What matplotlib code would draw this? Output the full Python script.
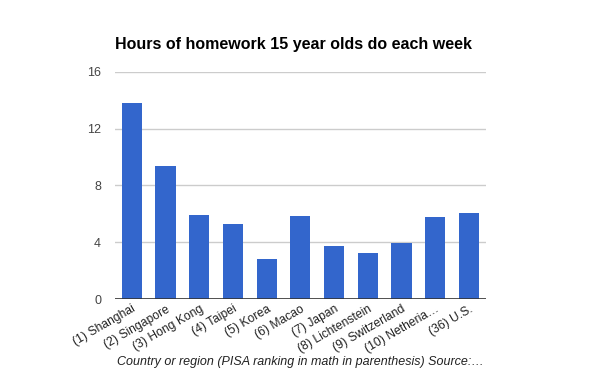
import matplotlib.pyplot as plt

# Dados
paises = ["(1) Shanghai", "(2) Singapore", "(3) Hong Kong", "(4) Taipei", "(5) Korea",
          "(6) Macao", "(7) Japan", "(8) Lichtenstein", "(9) Switzerland",
          "(10) Netheria…", "(36) U.S."]
horas = [13.8, 9.36, 5.91, 5.28, 2.82, 5.84, 3.73, 3.24, 3.94, 5.77, 6.05]
yticks = [0, 4, 8, 12, 16]

plt.rcParams['font.family'] = ['Liberation Sans', 'DejaVu Sans']

fig = plt.figure(figsize=(6, 3.71), dpi=100)
ax = fig.add_axes([0.1917, 0.194, 0.6178, 0.6127])

ax.bar(range(len(paises)), horas, width=0.6, color="#3366CC", zorder=3)

ax.set_xlim(-0.5, len(paises) - 0.5)
ax.set_ylim(0, 16)
ax.set_yticks(yticks)
ax.grid(axis="y", color="#CCCCCC", linewidth=1, zorder=0)
ax.axhline(0, color="#333333", linewidth=1.2, zorder=4)

for s in ["top", "right", "left", "bottom"]:
    ax.spines[s].set_visible(False)

ax.tick_params(axis="both", length=0, labelsize=9, labelcolor="#444444")
ax.tick_params(axis="y", pad=10)
ax.tick_params(axis="x", pad=3)
ax.set_xticks(range(len(paises)))
ax.set_xticklabels(paises, rotation=30, ha="right", rotation_mode="anchor", fontsize=8.7, color="#222222")

# Rótulo do eixo x e título
fig.text(0.5, 0.024, "Country or region (PISA ranking in math in parenthesis) Source:…",
         fontstyle="italic", fontsize=9, color="#222222", ha="center", va="center")
fig.text(0.1917, 0.879, "Hours of homework 15 year olds do each week",
         fontsize=11.5, fontweight="bold", color="#000000", ha="left", va="center")

fig.savefig("out.png", dpi=100)
